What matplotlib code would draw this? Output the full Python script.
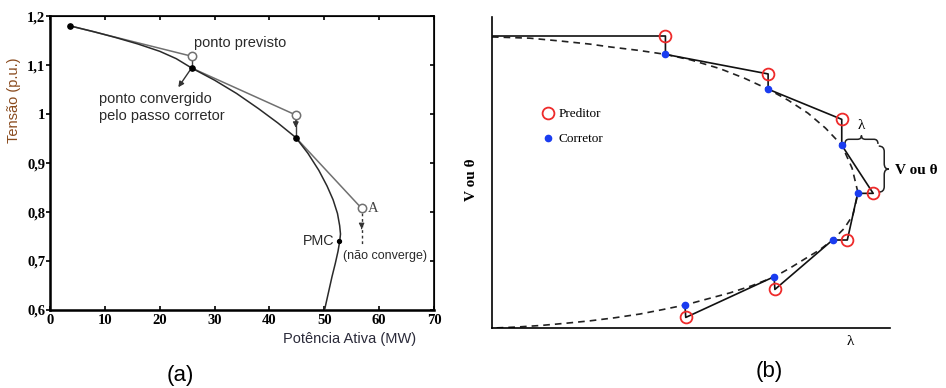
import matplotlib
matplotlib.use('Agg')
import matplotlib.pyplot as plt
from matplotlib.path import Path
from matplotlib.patches import PathPatch
from matplotlib.lines import Line2D

# ---- painel (a): curva PV e passos preditor / corretor ----
pv_p = [3.6, 8, 12, 16, 20, 23, 25.8, 30, 34, 38, 41.5, 44.8, 47, 49, 50.5, 51.6, 52.4, 52.8, 52.95,
        52.8, 52.5, 52.0, 51.4, 50.8, 50.1]
pv_v = [1.180, 1.168, 1.156, 1.143, 1.128, 1.113, 1.094, 1.069, 1.042, 1.011, 0.982, 0.952, 0.920,
        0.885, 0.853, 0.825, 0.797, 0.772, 0.755, 0.740, 0.720, 0.695, 0.668, 0.638, 0.603]

conv_p = [3.6, 25.8, 44.8]          # pontos convergidos
conv_v = [1.180, 1.094, 0.952]
prev_p = [25.8, 44.8, 56.8]         # pontos previstos
prev_v = [1.118, 0.998, 0.8075]
pmc = (52.75, 0.741)

xticks_a = [0, 10, 20, 30, 40, 50, 60, 70]
yticks_a = [0.6, 0.7, 0.8, 0.9, 1.0, 1.1, 1.2]
ylabels_a = ['0,6', '0,7', '0,8', '0,9', '1', '1,1', '1,2']

# ---- painel (b): esquema generico ----
curve_lam = [0, 9.5, 17.1, 24.6, 29.6, 36.7, 43.6, 50, 57.3, 63.5, 69.4, 74.5, 79.4, 83.8, 87.9, 90.5,
             92.0, 90.7, 88.5, 85.6, 82.2, 78.6, 74.8, 70.9, 65.3, 59.8, 54.0, 48.5, 42.8, 37.2, 30.9,
             24.6, 18.3, 12.1, 6.0, 0.3]
curve_v = [93.6, 93.2, 92.3, 91.3, 90.4, 89.3, 88.0, 86.2, 83.4, 80.3, 76.8, 73.2, 69.1, 64.3, 58.8, 51.4,
           43.4, 36.3, 32.0, 28.3, 25.0, 22.2, 19.2, 16.4, 13.6, 11.3, 9.3, 7.4, 5.9, 4.5, 3.3,
           2.3, 1.5, 0.8, 0.3, 0]

pred_lam = [43.6, 69.4, 87.9, 95.8, 89.3, 71.1, 48.7]
pred_v = [93.9, 81.7, 67.1, 43.3, 28.3, 12.4, 3.4]
corr_lam = [43.6, 69.4, 87.9, 91.9, 85.6, 70.9, 48.5]
corr_v = [88.0, 76.8, 58.8, 43.3, 28.3, 16.5, 7.4]
start_b = (0, 93.9)

fig = plt.figure(figsize=(9.46, 3.88), dpi=100)

# =================== (a) ===================
ax = fig.add_axes([0.0529, 0.201, 0.4059, 0.7577])
ax.plot(pv_p, pv_v, color='#2a2a2a', lw=1.1, zorder=3)

# linhas do preditor
for i in range(3):
    ax.plot([conv_p[i], prev_p[i]], [conv_v[i], prev_v[i]], color='#707070', lw=1.1, zorder=2)
ax.plot([prev_p[0], conv_p[1]], [prev_v[0], conv_v[1]], color='#404040', lw=1.0)
ax.plot([prev_p[1], conv_p[2]], [prev_v[1], conv_v[2]], color='#404040', lw=1.0)

ax.plot(prev_p, prev_v, 'o', ms=6, mfc='white', mec='#707070', mew=1.1, zorder=4)
ax.plot(conv_p, conv_v, 'o', ms=3.8, color='black', zorder=5)
ax.plot(*pmc, 'o', ms=2.8, color='black', zorder=5)

arw = dict(arrowstyle='-|>', color='#333333', lw=1.0, mutation_scale=8)
ax.annotate('', xy=(23.1, 1.05), xytext=(conv_p[1], conv_v[1]), arrowprops=arw)
ax.annotate('', xy=(prev_p[1], 0.966), xytext=(prev_p[1], 0.994), arrowprops=arw)
ax.plot([prev_p[2], prev_p[2]], [0.798, 0.733], color='#333333', lw=1.0, ls=(0, (2, 2)))
ax.annotate('', xy=(prev_p[2], 0.760), xytext=(prev_p[2], 0.772),
            arrowprops=dict(arrowstyle='-|>', color='#333333', lw=0.8, mutation_scale=8))

ax.text(26.3, 1.144, 'ponto previsto', fontsize=10.5, family='Liberation Sans', color='#2a2a2a', va='center')
ax.text(9.0, 1.013, 'ponto convergido\npelo passo corretor', fontsize=10.5, family='Liberation Sans',
        color='#2a2a2a', va='center', linespacing=1.25)
ax.text(57.9, 0.808, 'A', fontsize=10.5, family='Liberation Serif', color='#444444', va='center')
ax.text(51.8, 0.741, 'PMC', fontsize=10.3, family='Liberation Sans', color='#2a2a2a', va='center', ha='right')
ax.text(53.4, 0.710, '(não converge)', fontsize=9, family='Liberation Sans', color='#2a2a2a', va='center')

ax.set_xlim(0, 70)
ax.set_ylim(0.6, 1.2)
ax.set_xticks(xticks_a)
ax.set_yticks(yticks_a)
ax.set_yticklabels(ylabels_a)
for lab in ax.get_xticklabels() + ax.get_yticklabels():
    lab.set_family('Liberation Serif')
    lab.set_fontweight('bold')
    lab.set_fontsize(10.5)
ax.tick_params(axis='x', direction='in', length=3, top=True, pad=3, width=1.2)
ax.tick_params(axis='y', direction='out', left=True, right=False, length=3, width=1.2, pad=0.5)
for s in ax.spines.values():
    s.set_linewidth(1.2)
ax.spines['left'].set_linewidth(1.8)
ax.spines['bottom'].set_linewidth(1.8)
ax.set_xlabel('Potência Ativa (MW)', fontsize=10.5, family='Liberation Sans', color='#2b2b3a')
ax.xaxis.set_label_coords(0.78, -0.075)
ax.set_ylabel('Tensão (p.u.)', fontsize=10.5, family='Liberation Sans', color='#8a4b1e')
ax.yaxis.set_label_coords(-0.075, 0.714)

# ticks para dentro no lado direito
ax2 = ax.twinx()
ax2.set_ylim(0.6, 1.2)
ax2.set_yticks(yticks_a)
ax2.tick_params(direction='in', length=3, width=1.2, labelright=False)

fig.text(180 / 946, 1 - 375 / 388, '(a)', fontsize=16, family='Liberation Sans', ha='center', va='center')

# =================== (b) ===================
bx = fig.add_axes([0.520, 0.1546, 0.4207, 0.8015])
bx.plot(curve_lam, curve_v, color='#222222', lw=1.2, ls=(0, (4, 3)), zorder=2)

path_lam = [start_b[0]]
path_v = [start_b[1]]
for pl, pv, cl, cv in zip(pred_lam, pred_v, corr_lam, corr_v):
    path_lam += [pl, cl]
    path_v += [pv, cv]
bx.plot(path_lam, path_v, color='#111111', lw=1.2, zorder=3)
bx.plot(pred_lam, pred_v, 'o', ms=8.5, mfc='none', mec='#ee2a2a', mew=1.3, zorder=4)
bx.plot(corr_lam, corr_v, 'o', ms=4.5, color='#1a3cf0', zorder=5)

handles = [Line2D([], [], ls='', marker='o', ms=8.5, mfc='none', mec='#ee2a2a', mew=1.3),
           Line2D([], [], ls='', marker='o', ms=4.5, color='#1a3cf0')]
bx.legend(handles, ['Preditor', 'Corretor'], loc='upper left', bbox_to_anchor=(0.097, 0.745),
          frameon=False, handlelength=0.8, handletextpad=0.4, labelspacing=0.95,
          prop={'family': 'Liberation Serif', 'size': 9.5})


def brace(a, x0, x1, base, tip, vertical=False):
    # chave desenhada como curva de Bezier
    m = (x0 + x1) / 2
    w = x1 - x0
    mid = base + (tip - base) * 0.55
    pts = [(x0, base), (x0, mid), (x0 + 0.12 * w, mid),
           (m - 0.12 * w, mid), (m, mid), (m, tip),
           (m, mid), (m + 0.12 * w, mid),
           (x1 - 0.12 * w, mid), (x1, mid), (x1, base)]
    codes = [Path.MOVETO, Path.CURVE3, Path.CURVE3,
             Path.LINETO, Path.CURVE3, Path.CURVE3,
             Path.CURVE3, Path.CURVE3,
             Path.LINETO, Path.CURVE3, Path.CURVE3]
    if vertical:
        pts = [(p[1], p[0]) for p in pts]
    a.add_patch(PathPatch(Path(pts, codes), fc='none', ec='#222222', lw=1.1, clip_on=False))


brace(bx, 88.7, 97.0, 59.2, 61.9)
brace(bx, 43.7, 58.5, 97.2, 99.7, vertical=True)
bx.text(92.7, 65.0, 'λ', fontsize=11, family='Liberation Serif', ha='center', va='center')
bx.text(101.3, 50.8, 'V ou θ', fontsize=11, family='Liberation Serif', fontweight='bold',
        va='center', clip_on=False)
bx.text(90.1, -4.4, 'λ', fontsize=11, family='Liberation Serif', ha='center', va='center', clip_on=False)
bx.text(-5.1, 47.6, 'V ou θ', fontsize=11, family='Liberation Serif', fontweight='bold',
        rotation=90, ha='center', va='center', clip_on=False)

bx.set_xlim(0, 100)
bx.set_ylim(0, 100)
bx.set_xticks([])
bx.set_yticks([])
bx.spines['top'].set_visible(False)
bx.spines['right'].set_visible(False)
bx.spines['left'].set_linewidth(1.2)
bx.spines['bottom'].set_linewidth(1.2)

fig.text(769 / 946, 1 - 372 / 388, '(b)', fontsize=16, family='Liberation Sans', ha='center', va='center')

plt.savefig('out.png', dpi=100)
